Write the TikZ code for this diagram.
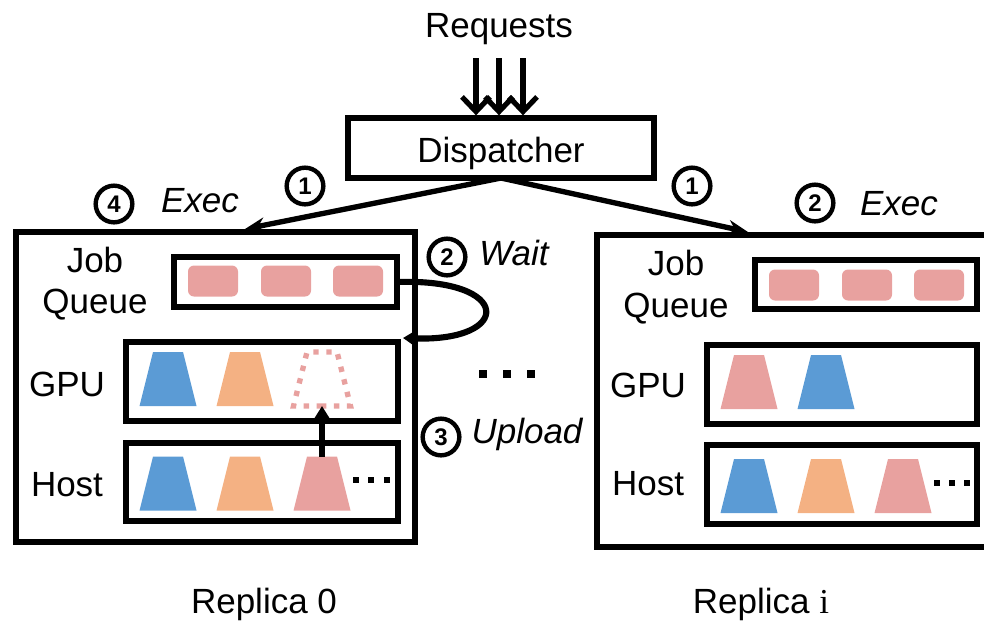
\documentclass[tikz,border=0pt]{standalone}
\usepackage{fontspec}
\setmainfont{Liberation Sans}
\newfontfamily\serifface{Liberation Serif}
\usetikzlibrary{arrows.meta,fit}

\definecolor{modblue}{HTML}{5B9BD5}
\definecolor{modorange}{HTML}{F4B183}
\definecolor{modpink}{HTML}{E8A19F}

% a filled model block (trapezoid) with a named bounding node
\newcommand\trapnode[3]{%
  \node[trapbox] (#1) at (#2) {};
  \fill[#3] (#1.south west) -- (#1.south east) -- ([xshift=-10.125pt]#1.north east)
    -- ([xshift=10.125pt]#1.north west) -- cycle;
}
% an empty slot, drawn as a dotted trapezoid outline
\newcommand\traphole[2]{%
  \node[trapbox] (#1) at (#2) {};
  \draw[holeline] ([xshift=21.375pt]#1.south west) -- (#1.south west)
    -- ([xshift=10.125pt]#1.north west) -- ([xshift=-10.125pt]#1.north east)
    -- (#1.south east) -- cycle;
}

\begin{document}
\begin{tikzpicture}[x=0.75pt,y=-0.75pt,
  every node/.style={inner sep=0pt, outer sep=0pt},
  txt/.style={font=\fontsize{26.25}{30}\selectfont, anchor=base},
  itxt/.style={font=\itshape\fontsize{26.25}{30}\selectfont, anchor=base},
  boxframe/.style={draw, line width=4.2pt},
  qbox/.style={fill=modpink, rounded corners=4.5pt, minimum width=37.5pt, minimum height=23.25pt},
  trapbox/.style={minimum width=42.75pt, minimum height=40.5pt},
  holeline/.style={draw=modpink, line width=4pt, dash pattern=on 4pt off 5.7pt},
  dotsq/.style={fill=black, minimum size=4.2pt},
  bigdot/.style={fill=black, minimum size=6.4pt},
  numc/.style={circle, draw, line width=3.3pt, minimum size=27.5pt,
    font=\bfseries\fontsize{18}{18}\selectfont},
  reqarrow/.style={line width=3.9pt,
    -{Straight Barb[length=11pt,width=21pt,line width=3.9pt]}, shorten >=2pt},
  disparrow/.style={line width=4pt, -{Stealth[length=15pt,width=11.5pt]}},
  uparrow/.style={line width=4pt, -{Triangle[length=9pt,width=10.5pt]}},
  waitarrow/.style={line width=4.6pt, -{Triangle[length=9pt,width=11pt]}},
]
\useasboundingbox (0,0) rectangle (984,622);

% ---------- requests and dispatcher ----------
\node[txt] (req) at (499,37) {Requests};
\node[boxframe, fit={(348,118) (654,178)}] (disp) {};
\node[txt] (dispt) at (501,162) {Dispatcher};
\foreach \x [count=\i] in {476,499,523} \coordinate (r\i) at (\x,58);
\foreach \i in {1,2,3} \draw[reqarrow] (r\i) -- (r\i |- disp.north);

\coordinate (tip0) at (245,229);
\coordinate (tipi) at (748,232);
\draw[disparrow] (disp.south) -- (tip0);
\draw[disparrow] (disp.south) -- (tipi);

% ---------- replica 0 ----------
\node[boxframe, fit={(16,232) (415,542)}] (rep0) {};
\node[boxframe, fit={(174,257) (397,307)}] (jq0) {};
\node[boxframe, fit={(126,342) (398,421)}] (gpu0) {};
\node[boxframe, fit={(126,443) (398,521)}] (host0) {};
\node[txt] (jq0l1) at (95,272) {Job};
\node[txt] (jq0l2) at (95,313) {Queue};
\node[txt] (gpu0l) at (67,396) {GPU};
\node[txt] (host0l) at (67,496) {Host};
\foreach \x in {213,286,358} \node[qbox] (q0\x) at (\x,281) {};

\trapnode{g0a}{168,379}{modblue}
\trapnode{g0b}{245,379}{modorange}
\traphole{g0c}{322,379}
\trapnode{h0a}{168,483.5}{modblue}
\trapnode{h0b}{245,483.5}{modorange}
\trapnode{h0c}{322,483.5}{modpink}
\foreach \x in {356,371,387} \node[dotsq] (hd0\x) at (\x,480) {};

\draw[uparrow] (h0c.north) -- (g0c.south);
\coordinate (waitend) at (403,338);
\draw[waitarrow] (jq0.east) .. controls (513,278) and (513,342) .. (waitend);

% ---------- step labels ----------
\node[numc] (n1a) at (305,186) {1};
\node[numc] (n4) at (114,204) {4};
\node[itxt] (exec0) at (200,212) {Exec};
\node[numc] (n1b) at (692,186) {1};
\node[numc] (n2b) at (815,203) {2};
\node[itxt] (execi) at (899,215) {Exec};
\node[numc] (n2a) at (447,257) {2};
\node[itxt] (waitl) at (514,265) {Wait};
\node[numc] (n3) at (441,437) {3};
\node[itxt] (uploadl) at (527,443) {Upload};
\foreach \x in {483,507,531} \node[bigdot] (md\x) at (\x,374) {};

% ---------- replica i ----------
\begin{scope}
  \clip (0,0) rectangle (984,622);
  \node[boxframe, fit={(597,235) (995,547)}] (repi) {};
\end{scope}
\node[boxframe, fit={(755,260) (977,309)}] (jqi) {};
\node[boxframe, fit={(707,345) (977,424)}] (gpui) {};
\node[boxframe, fit={(707,445) (977,524)}] (hosti) {};
\node[txt] (jqil1) at (676,275) {Job};
\node[txt] (jqil2) at (676,317) {Queue};
\node[txt] (gpuil) at (648,397) {GPU};
\node[txt] (hostil) at (648,495) {Host};
\foreach \x in {794,867,939} \node[qbox] (qi\x) at (\x,285) {};

\trapnode{gia}{749,382}{modpink}
\trapnode{gib}{826,382}{modblue}
\trapnode{hia}{749,486}{modblue}
\trapnode{hib}{826,486}{modorange}
\trapnode{hic}{903,486}{modpink}
\foreach \x in {937,952,967} \node[dotsq] (hdi\x) at (\x,483) {};

% ---------- captions ----------
\node[txt] (cap0) at (264,613) {Replica 0};
\node[txt] (capi) at (761,613) {Replica {\serifface i}};
\end{tikzpicture}
\end{document}
